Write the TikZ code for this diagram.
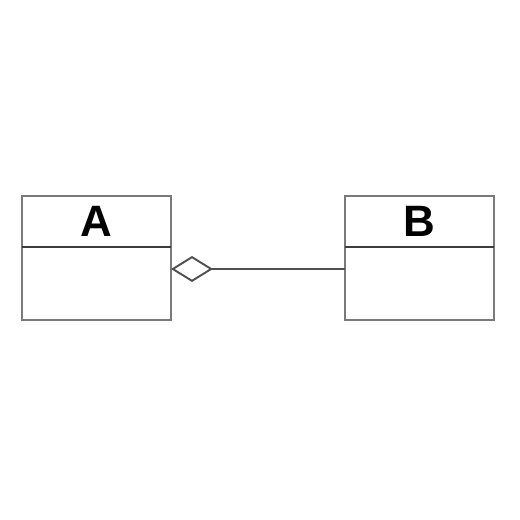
\documentclass[tikz,border=0pt]{standalone}
\usepackage{fontspec}
\setmainfont{Liberation Sans}
\usetikzlibrary{positioning,arrows.meta}
\definecolor{boxgray}{HTML}{7A7A7A}
\definecolor{rulegray}{HTML}{3C3C3C}
\definecolor{linkgray}{HTML}{505050}

\begin{document}
\begin{tikzpicture}[x=0.02cm,y=-0.02cm,
head/.style={draw=boxgray,line width=1.1pt,outer sep=0pt,inner sep=0pt,minimum width=2.98cm,minimum height=1.02cm,font=\fontsize{25}{25}\selectfont\bfseries},
body/.style={draw=boxgray,line width=1.1pt,outer sep=0pt,inner sep=0pt,minimum width=2.98cm,minimum height=1.46cm},
aggr/.style={draw=linkgray,line width=1.1pt,-{Diamond[open,length=0.84cm,width=0.52cm]}}]
\useasboundingbox (0,0) rectangle (520,520);
\node (ahead) [head] at (96.5,221.5) {\raisebox{-2pt}{A}};
\node (abody) [body,below=0pt of ahead] {};
\node (bhead) [head,right=3.48cm of ahead] {\raisebox{-2pt}{B}};
\node (bbody) [body,below=0pt of bhead] {};
% dividers between name and body
\draw [rulegray,line width=1.1pt] (ahead.south west) -- (ahead.south east);
\draw [rulegray,line width=1.1pt] (bhead.south west) -- (bhead.south east);
\draw [aggr] ([yshift=0.29cm]bbody.west) -- ([yshift=0.29cm]abody.east);
\end{tikzpicture}
\end{document}
